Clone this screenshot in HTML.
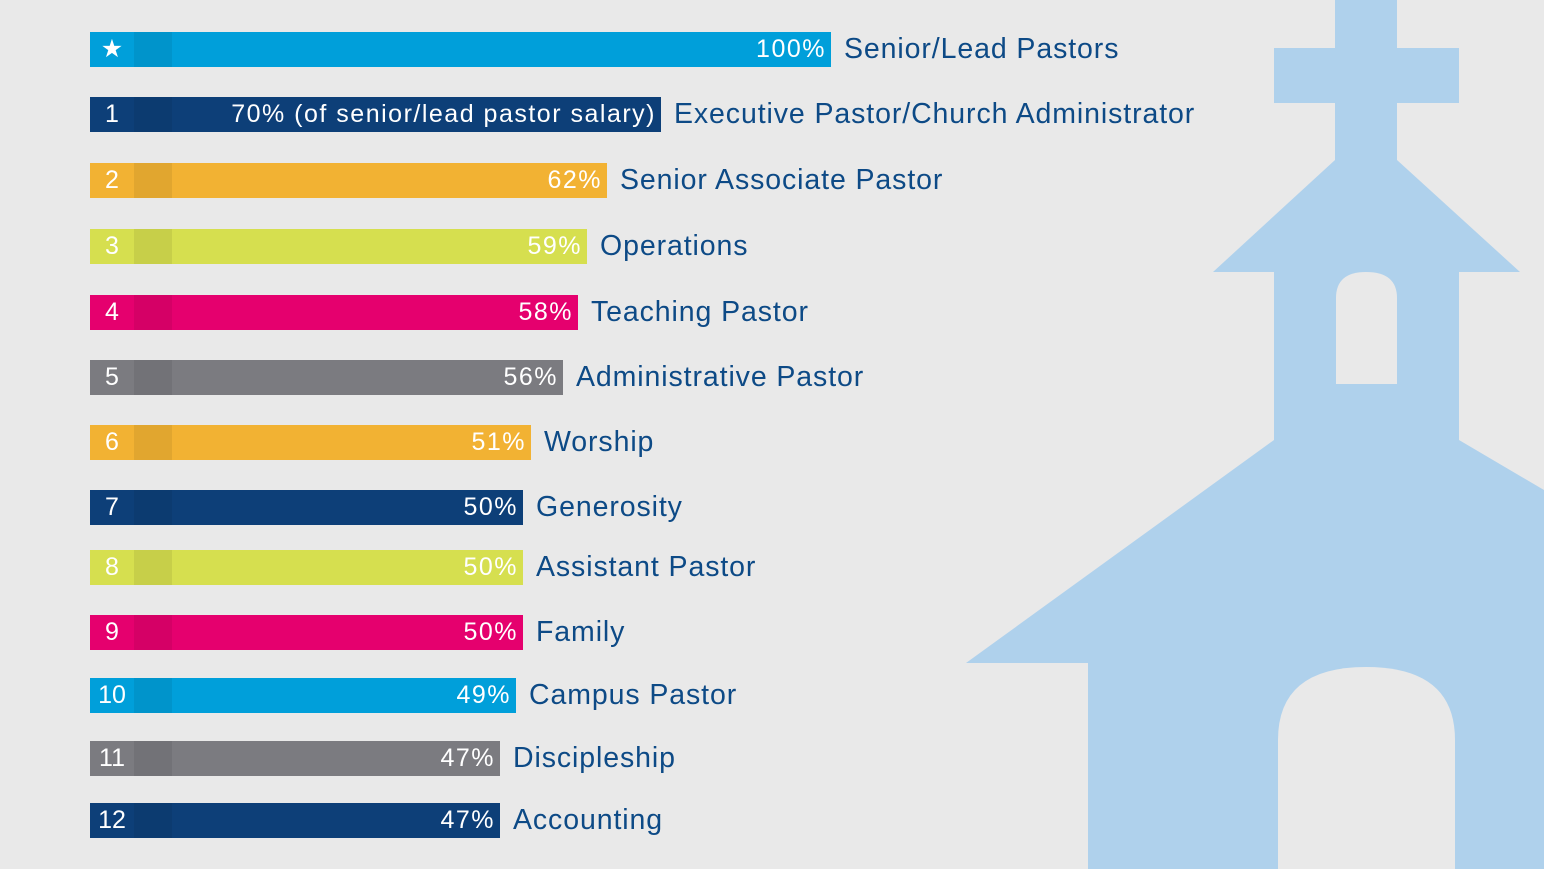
<!DOCTYPE html><html><head><style>
body{margin:0;width:1544px;height:869px;overflow:hidden;background:#e9e9e9;font-family:"Liberation Sans",sans-serif;position:relative}
.r{position:absolute;left:90px;height:35px}
.n{position:absolute;left:0;top:0;width:44px;height:35px;color:#fff;font-size:25px;line-height:35px;text-align:center}
.c{position:absolute;left:44px;top:0;width:38px;height:35px;filter:brightness(0.93)}
.b{position:absolute;left:82px;top:0;height:35px;color:#fff;font-size:25px;letter-spacing:1.5px;line-height:35px;text-align:right;box-sizing:border-box;padding-right:5px;white-space:nowrap}
.l{position:absolute;top:0;line-height:35px;font-size:28.5px;letter-spacing:0.9px;color:#0d4a86;white-space:nowrap}
</style></head><body>
<svg width="1544" height="869" style="position:absolute;left:0;top:0">
<path d="M1335,0H1397V48H1459V103H1397V160L1520,272H1459V440L1544,490V869H1088V663H966L1274,440V272H1213L1335,160V103H1274V48H1335Z" fill="#afd1ec"/>
<path d="M1336,384V298Q1336,272 1366,272Q1397,272 1397,298V384Z" fill="#e9e9e9"/>
<path d="M1278,869V740Q1278,667 1366,667Q1455,667 1455,740V869Z" fill="#e9e9e9"/>
</svg>
<div id="c"></div>
<script>
const d=[["★","#009fda",831,"100%","Senior/Lead Pastors",49],
["1","#0d3f78",661,"70% (of senior/lead pastor salary)","Executive Pastor/Church Administrator",114],
["2","#f2b233",607,"62%","Senior Associate Pastor",180],
["3","#d6df4f",587,"59%","Operations",246],
["4","#e5006e",578,"58%","Teaching Pastor",312],
["5","#7b7b80",563,"56%","Administrative Pastor",377],
["6","#f2b233",531,"51%","Worship",442],
["7","#0d3f78",523,"50%","Generosity",507],
["8","#d6df4f",523,"50%","Assistant Pastor",567],
["9","#e5006e",523,"50%","Family",632],
["10","#009fda",516,"49%","Campus Pastor",695],
["11","#7b7b80",500,"47%","Discipleship",758],
["12","#0d3f78",500,"47%","Accounting",820]];
let h="";for(const[n,c,e,v,l,y]of d){h+=`<div class="r" style="top:${y-17}px"><div class="n" style="background:${c}">${n}</div><div class="c" style="background:${c}"></div><div class="b" style="background:${c};width:${e-172}px">${v}</div><div class="l" style="left:${e-90+13}px">${l}</div></div>`}
document.getElementById("c").innerHTML=h;
</script>
</body></html>
